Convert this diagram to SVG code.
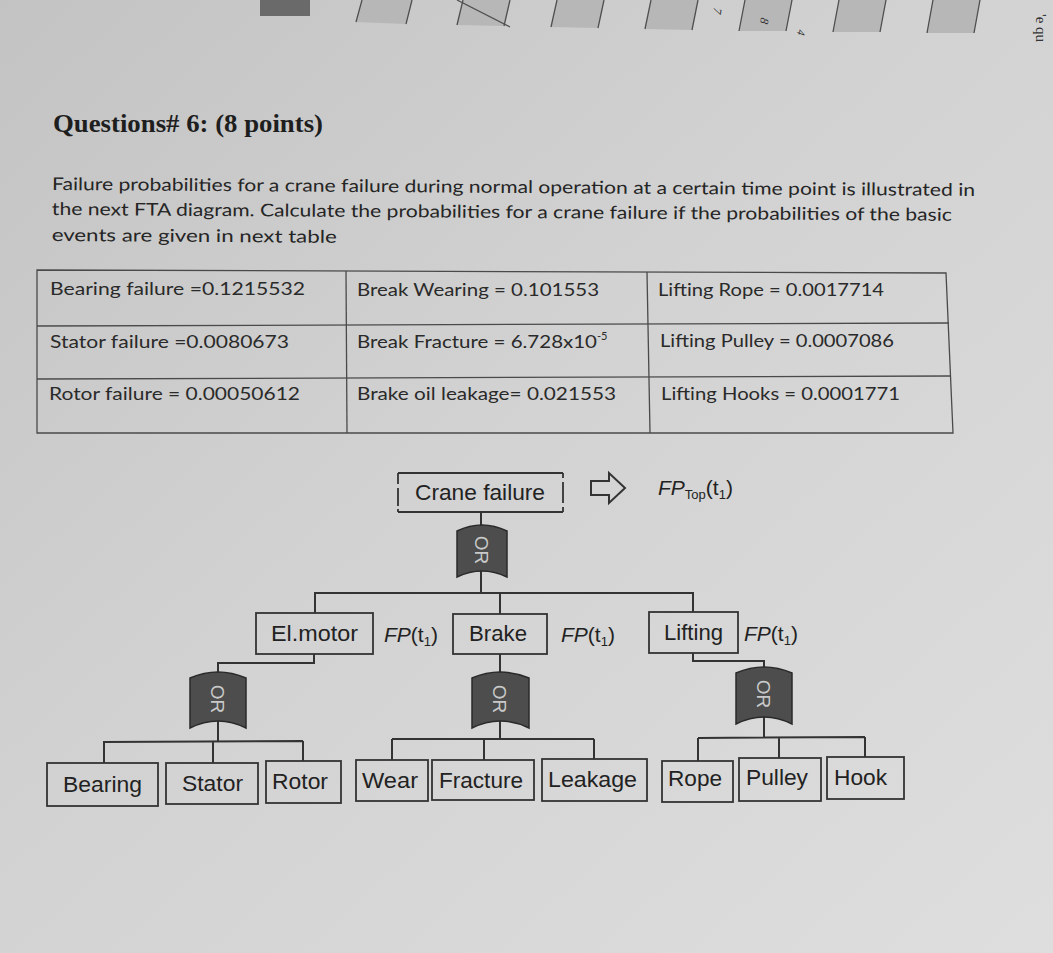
<svg xmlns="http://www.w3.org/2000/svg" width="1053" height="953" viewBox="0 0 1053 953">
<defs>
<linearGradient id="paper" x1="0" y1="0" x2="1" y2="1">
<stop offset="0" stop-color="#c3c3c3"/>
<stop offset="0.45" stop-color="#d2d2d2"/>
<stop offset="1" stop-color="#dedede"/>
</linearGradient>
<style>
.q{font-family:"Lato","Liberation Sans",sans-serif;font-size:17.5px;fill:#252525}
.t{font-family:"Lato","Liberation Sans",sans-serif;font-size:17.5px;fill:#2a2a2a}
.n{font-family:"Liberation Sans","Arial",sans-serif;font-size:22px;fill:#222}
.fp{font-family:"Liberation Sans","Arial",sans-serif;font-size:21px;fill:#222}
.box{fill:none;stroke:#333;stroke-width:1.8}
.ln{fill:none;stroke:#333;stroke-width:2}
.tb{fill:none;stroke:#4a4a4a;stroke-width:1.3}
.gate{fill:#4d4d4d;stroke:#2a2a2a;stroke-width:1.5}
.ort{font-family:"Liberation Sans","Arial",sans-serif;font-size:19px;fill:#c9c9c9;text-anchor:middle}
.cell{fill:#b7b7b7}
.grid{stroke:#4f4f4f;stroke-width:1.3;fill:none}
</style>
</defs>
<rect width="1053" height="953" fill="url(#paper)"/>

<g id="top-strip">
<rect x="260" y="0" width="50" height="16" fill="#6a6a6a"/>
<polygon class="cell" points="362,0 412,0 406,24 356,22"/>
<polygon class="cell" points="463,0 510,0 504,26 457,25"/>
<polygon class="cell" points="557,0 604,0 598,28 551,27"/>
<polygon class="cell" points="651,0 698,0 692,30 645,29"/>
<polygon class="cell" points="745,0 792,0 786,31 739,31"/>
<polygon class="cell" points="839,0 886,0 880,32 833,32"/>
<polygon class="cell" points="933,0 980,0 974,33 927,33"/>
<path class="grid" d="M362,0 L356,22 M412,0 L406,24 M463,0 L457,25 M510,0 L504,26 M557,0 L551,27 M604,0 L598,28 M651,0 L645,29 M698,0 L692,30 M745,0 L739,31 M792,0 L786,31 M839,0 L833,32 M886,0 L880,32 M933,0 L927,33 M980,0 L974,33"/>
<path class="grid" d="M457,0 L510,27"/>
<text x="718" y="12" font-family="Liberation Serif,serif" font-size="12" font-style="italic" fill="#333" transform="rotate(100 718 8)">7</text>
<text x="765" y="22" font-family="Liberation Serif,serif" font-size="12" font-style="italic" fill="#333" transform="rotate(100 765 18)">8</text>
<text x="802" y="34" font-family="Liberation Serif,serif" font-size="11" font-style="italic" fill="#333" transform="rotate(100 802 30)">4</text>
<text x="1036" y="14" font-family="Liberation Serif,serif" font-size="15" fill="#333" transform="rotate(90 1036 14)">'e qu</text>
</g>

<g id="question">
<text x="53" y="132" font-family="Liberation Serif,serif" font-weight="bold" font-size="26" fill="#1e1e1e" textLength="270" lengthAdjust="spacingAndGlyphs">Questions# 6: (8 points)</text>
<g transform="rotate(0.37 52 191)">
<text class="q" x="52" y="190" textLength="923" lengthAdjust="spacingAndGlyphs">Failure probabilities for a crane failure during normal operation at a certain time point is illustrated in</text>
<text class="q" x="52" y="215" textLength="900" lengthAdjust="spacingAndGlyphs">the next FTA diagram. Calculate the  probabilities for a crane failure if the probabilities of the basic</text>
<text class="q" x="52" y="241" textLength="285" lengthAdjust="spacingAndGlyphs">events are given in next table</text>
</g>
</g>

<g id="table">
<polygon class="tb" points="37,270 946,273 953,433 37,433"/>
<line class="tb" x1="37" y1="326" x2="949" y2="323"/>
<line class="tb" x1="37" y1="379" x2="951" y2="376"/>
<line class="tb" x1="346" y1="271" x2="347" y2="433"/>
<line class="tb" x1="647" y1="272" x2="650" y2="433"/>
<text class="t" x="50" y="295" textLength="255" lengthAdjust="spacingAndGlyphs">Bearing failure =0.1215532</text>
<text class="t" x="50" y="348" textLength="239" lengthAdjust="spacingAndGlyphs">Stator failure =0.0080673</text>
<text class="t" x="49" y="400" textLength="251" lengthAdjust="spacingAndGlyphs">Rotor failure = 0.00050612</text>
<text class="t" x="357" y="296" textLength="242" lengthAdjust="spacingAndGlyphs">Break Wearing = 0.101553</text>
<text class="t" x="357" y="348"><tspan textLength="240" lengthAdjust="spacingAndGlyphs">Break Fracture = 6.728x10</tspan><tspan font-size="11" dy="-8">-5</tspan></text>
<text class="t" x="357" y="400" textLength="259" lengthAdjust="spacingAndGlyphs">Brake oil leakage= 0.021553</text>
<text class="t" x="658" y="296" textLength="226" lengthAdjust="spacingAndGlyphs">Lifting Rope = 0.0017714</text>
<text class="t" x="660" y="347" textLength="234" lengthAdjust="spacingAndGlyphs">Lifting Pulley = 0.0007086</text>
<text class="t" x="661" y="400" textLength="239" lengthAdjust="spacingAndGlyphs">Lifting Hooks = 0.0001771</text>
</g>

<g id="connectors">
<path class="ln" d="M481,512 L481,526"/>
<path class="ln" d="M481,571 L481,593"/>
<path class="ln" d="M315,593 L693,593 M315,592 L315,613 M500,593 L500,614 M693,592 L693,612"/>
<path class="ln" d="M314,654 L314,663 L218,663 L218,673"/>
<path class="ln" d="M500,654 L500,672"/>
<path class="ln" d="M693,653 L693,661 L764,661 L764,668"/>
<path class="ln" d="M218,721 L218,742 M104,742 L303,741 M104,741 L104,763 M213,742 L213,763 M303,741 L303,761"/>
<path class="ln" d="M500,720 L500,739 M392,739 L594,739 M392,739 L392,760 M484,739 L484,760 M594,739 L594,759"/>
<path class="ln" d="M764,716 L764,738 M698,738 L865,737 M698,738 L698,761 M779,737 L779,758 M865,737 L865,757"/>
<path d="M591,481 L609,481 L609,473 L625,488 L609,503 L609,495 L591,495 Z" fill="none" stroke="#333" stroke-width="2" stroke-linejoin="miter"/>
</g>

<g id="crane-failure">
<path class="box" d="M398,473 L563,473 M398,512 L563,512 M398,473 L398,484 M398,488 L398,506 M398,509 L398,512 M563,473 L563,478 M563,482 L563,503 M563,507 L563,512"/>
<text class="n" x="480" y="500" text-anchor="middle" textLength="130" lengthAdjust="spacingAndGlyphs">Crane failure</text>
</g>
<g id="fp-top">
<text class="fp" x="658" y="495"><tspan font-style="italic">FP</tspan><tspan font-size="13" dy="4">Top</tspan><tspan dy="-4">(t</tspan><tspan font-size="13" dy="4">1</tspan><tspan dy="-4">)</tspan></text>
</g>

<g id="gate-top">
<path class="gate" d="M457,531 Q482,519 507,531 L507,577 Q482,565 457,577 Z"/>
<text class="ort" transform="translate(482,550) rotate(90)" y="7">OR</text>
</g>

<g id="el-motor">
<rect class="box" x="256" y="613" width="117" height="41"/>
<text class="n" x="314.5" y="641" text-anchor="middle" textLength="87" lengthAdjust="spacingAndGlyphs">El.motor</text>
<text class="fp" x="384" y="642"><tspan font-style="italic">FP</tspan>(t<tspan font-size="13" dy="4">1</tspan><tspan dy="-4">)</tspan></text>
</g>
<g id="brake">
<rect class="box" x="453" y="614" width="94" height="40"/>
<text class="n" x="498" y="641" text-anchor="middle" textLength="58" lengthAdjust="spacingAndGlyphs">Brake</text>
<text class="fp" x="561" y="642"><tspan font-style="italic">FP</tspan>(t<tspan font-size="13" dy="4">1</tspan><tspan dy="-4">)</tspan></text>
</g>
<g id="lifting">
<rect class="box" x="649" y="612" width="89" height="41"/>
<text class="n" x="693.5" y="640" text-anchor="middle" textLength="59" lengthAdjust="spacingAndGlyphs">Lifting</text>
<text class="fp" x="744" y="641"><tspan font-style="italic">FP</tspan>(t<tspan font-size="13" dy="4">1</tspan><tspan dy="-4">)</tspan></text>
</g>

<g id="gate-el-motor">
<path class="gate" d="M190,678 Q218,666 246,678 L246,728 Q218,714 190,728 Z"/>
<text class="ort" transform="translate(218,699) rotate(90)" y="7">OR</text>
</g>
<g id="gate-brake">
<path class="gate" d="M472,678 Q500,666 529,678 L529,728 Q500,714 472,728 Z"/>
<text class="ort" transform="translate(500,699) rotate(90)" y="7">OR</text>
</g>
<g id="gate-lifting">
<path class="gate" d="M736,673 Q764,661 792,673 L792,724 Q764,710 736,724 Z"/>
<text class="ort" transform="translate(764,694) rotate(90)" y="7">OR</text>
</g>

<g id="bearing">
<rect class="box" x="47" y="763" width="111" height="43"/>
<text class="n" x="102.5" y="792" text-anchor="middle" textLength="79" lengthAdjust="spacingAndGlyphs">Bearing</text>
</g>
<g id="stator">
<rect class="box" x="166" y="763" width="92" height="41"/>
<text class="n" x="212.5" y="791" text-anchor="middle" textLength="61" lengthAdjust="spacingAndGlyphs">Stator</text>
</g>
<g id="rotor">
<rect class="box" x="266" y="761" width="75" height="42"/>
<text class="n" x="300" y="789" text-anchor="middle" textLength="56" lengthAdjust="spacingAndGlyphs">Rotor</text>
</g>
<g id="wear">
<rect class="box" x="356" y="760" width="72" height="41"/>
<text class="n" x="390" y="788" text-anchor="middle" textLength="56" lengthAdjust="spacingAndGlyphs">Wear</text>
</g>
<g id="fracture">
<rect class="box" x="432" y="760" width="102" height="40"/>
<text class="n" x="481" y="788" text-anchor="middle" textLength="84" lengthAdjust="spacingAndGlyphs">Fracture</text>
</g>
<g id="leakage">
<rect class="box" x="542" y="759" width="105" height="42"/>
<text class="n" x="592.5" y="787" text-anchor="middle" textLength="89" lengthAdjust="spacingAndGlyphs">Leakage</text>
</g>
<g id="rope">
<rect class="box" x="662" y="761" width="71" height="41"/>
<text class="n" x="695" y="786" text-anchor="middle" textLength="54" lengthAdjust="spacingAndGlyphs">Rope</text>
</g>
<g id="pulley">
<rect class="box" x="739" y="758" width="82" height="43"/>
<text class="n" x="777" y="785" text-anchor="middle" textLength="62" lengthAdjust="spacingAndGlyphs">Pulley</text>
</g>
<g id="hook">
<rect class="box" x="827" y="757" width="77" height="42"/>
<text class="n" x="860.5" y="785" text-anchor="middle" textLength="53" lengthAdjust="spacingAndGlyphs">Hook</text>
</g>
</svg>
